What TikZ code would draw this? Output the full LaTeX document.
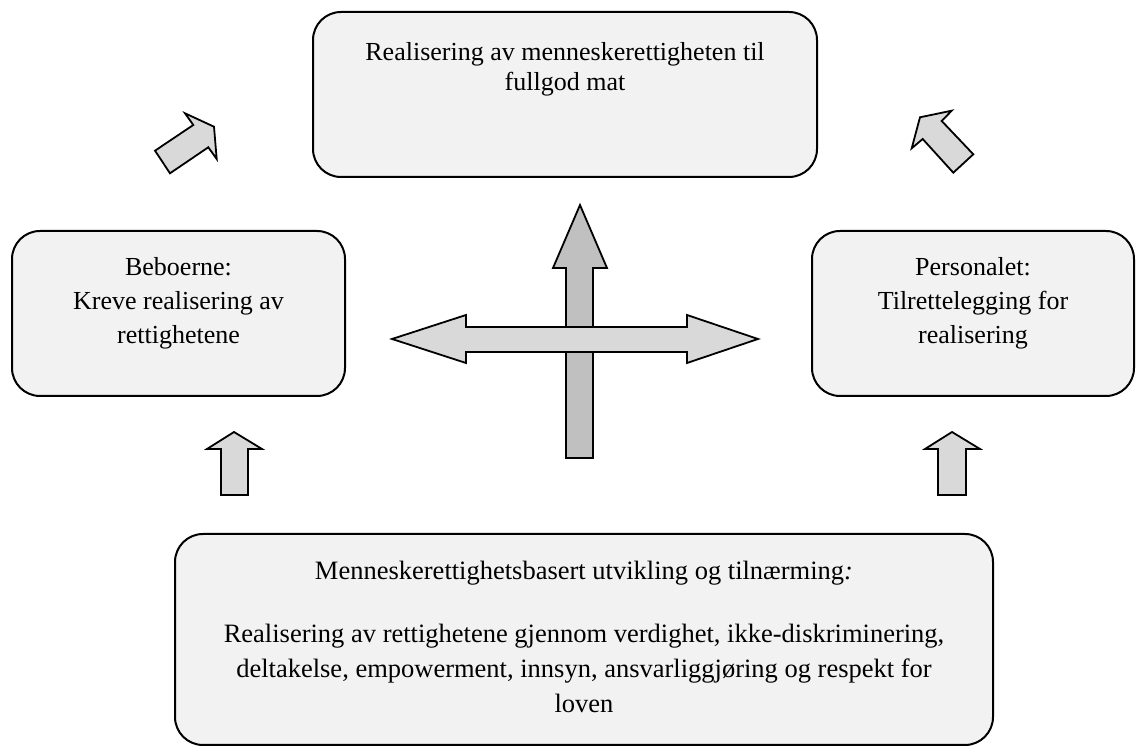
\documentclass[tikz,border=0pt]{standalone}
\usepackage{fontspec}
\setmainfont{Liberation Serif}
\usetikzlibrary{fit}
\definecolor{boxfill}{HTML}{F2F2F2}
\definecolor{arrlight}{HTML}{D9D9D9}
\definecolor{arrdark}{HTML}{C0C0C0}
\tikzset{
  box/.style={draw=black, line width=1pt, fill=boxfill, rounded corners=14pt, inner sep=0pt},
  txt/.style={align=center, inner sep=0pt, anchor=north, text=black},
  blockarrow/.style={draw=black, line width=0.9pt, fill=arrlight, line join=miter},
  blockarrowdark/.style={blockarrow, fill=arrdark}
}
\begin{document}
\begin{tikzpicture}[x=0.5pt, y=-0.5pt]
\useasboundingbox (0,0) rectangle (1136,747);
% boxes
\node[box, fit={(313,12) (817,177)}] (top) {};
\node[box, fit={(12,231) (345,396)}] (left) {};
\node[box, fit={(812,231) (1134,396)}] (right) {};
\node[box, fit={(175,534) (993,745)}] (bottom) {};
% texts
\node[txt, font={\fontsize{13}{15}\selectfont}] (toptext) at (565,42)
  {Realisering av menneskerettigheten til\\fullgod mat};
\node[txt, font={\fontsize{13}{17}\selectfont}] (lefttext) at (178.5,257)
  {Beboerne:\\Kreve realisering av\\rettighetene};
\node[txt, font={\fontsize{13}{17}\selectfont}] (righttext) at (973,257)
  {Personalet:\\Tilrettelegging for\\realisering};
\node[txt, font={\fontsize{13.25}{17.5}\selectfont}] (bottomtext) at (584,561)
  {Menneskerettighetsbasert utvikling og tilnærming\textit{:}\\[14pt]
   Realisering av rettighetene gjennom verdighet, ikke-diskriminering,\\
   deltakelse, empowerment, innsyn, ansvarliggjøring og respekt for\\
   loven};
% diagonal arrows
\draw[blockarrow] (155,150.7) -- (193.3,125) -- (185,113.3) -- (214,126.7)
  -- (216.7,159) -- (208.3,147.3) -- (170,173.3) -- cycle;
\draw[blockarrow] (920,117.3) -- (951.7,110.7) -- (941.7,121) -- (973.3,154.3)
  -- (953.3,172.7) -- (922.7,139) -- (911.7,148.3) -- cycle;
% small up arrows
\draw[blockarrow] (221,495) -- (221,449) -- (207,449) -- (234,432) -- (262,449)
  -- (248,449) -- (248,495) -- cycle;
\draw[blockarrow] (938,495) -- (938,449) -- (925,449) -- (952,432) -- (980,449)
  -- (966,449) -- (966,495) -- cycle;
% central cross
\draw[blockarrowdark] (566,458) -- (566,268) -- (553,268) -- (580,205) -- (607,268)
  -- (593,268) -- (593,458) -- cycle;
\draw[blockarrow] (392,339) -- (466,315) -- (466,327) -- (687,327) -- (687,315)
  -- (758,339) -- (687,363) -- (687,352) -- (466,352) -- (466,363) -- cycle;
\end{tikzpicture}
\end{document}
